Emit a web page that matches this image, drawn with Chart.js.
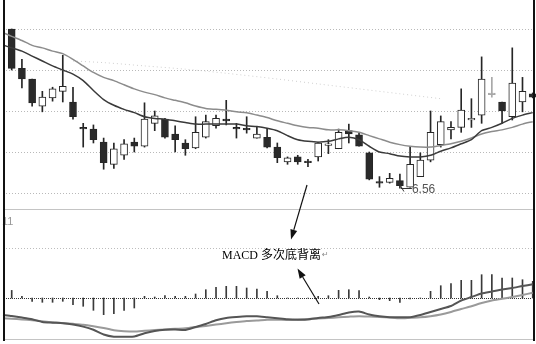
<!DOCTYPE html>
<html>
<head>
<meta charset="utf-8">
<script src="https://cdn.jsdelivr.net/npm/chart.js@4.4.1/dist/chart.umd.min.js"></script>
<style>
  html, body { margin: 0; padding: 0; background: #fff; }
  #wrap { position: relative; width: 536px; height: 344px; overflow: hidden; background: #fff; }
  #price { position: absolute; left: 0; top: 0; }
  #macd { position: absolute; left: 0; top: 210px; }
  #notes { position: absolute; left: 0; top: 0; }
</style>
</head>
<body>
<div id="wrap">
  <canvas id="price" width="536" height="210"></canvas>
  <canvas id="macd" width="536" height="134"></canvas>
  <svg id="notes" width="536" height="344" xmlns="http://www.w3.org/2000/svg">
    <text x="2" y="225" font-family="Liberation Sans, Arial, sans-serif" font-size="11" fill="#9a9a9a">11</text>
    <line x1="4" y1="209.5" x2="533" y2="209.5" stroke="#c4c4c4" stroke-width="1"/>
    <line x1="4" y1="339.5" x2="533" y2="339.5" stroke="#c4c4c4" stroke-width="1"/>
    <rect x="3" y="0" width="2" height="341" fill="#111"/>
    <rect x="533" y="0" width="2" height="341" fill="#111"/>
    <text x="222" y="258.5" font-family="Liberation Serif, 'Noto Sans CJK SC', serif" font-size="12" fill="#000">MACD 多次底背离</text>
    <text x="322" y="257" font-family="DejaVu Sans, sans-serif" font-size="8" fill="#8a8a8a">↵</text>
    <g id="arrows"></g>
  </svg>
</div>
<script>
// Daily candles: open / high / low / close
const openP  = [8.50, 8.02, 7.89, 7.56, 7.66, 7.74, 7.61, 7.30, 7.28, 7.12,
                6.85, 6.96, 7.12, 7.07, 7.35, 7.40, 7.22, 7.11, 7.05, 7.18,
                7.32, 7.40, 7.30, 7.29, 7.17, 7.18, 7.06, 6.88, 6.94, 6.89,
                6.94, 7.08, 7.04, 7.26, 7.21, 6.99, 6.64, 6.63, 6.65, 6.57,
                6.70, 6.90, 7.09, 7.27, 7.30, 7.39, 7.45, 7.72, 7.61, 7.43,
                7.61, 7.71];
const highP  = [8.50, 8.13, 7.89, 7.74, 7.79, 8.18, 7.79, 7.35, 7.33, 7.17,
                7.11, 7.15, 7.17, 7.60, 7.50, 7.41, 7.32, 7.15, 7.43, 7.45,
                7.45, 7.63, 7.35, 7.43, 7.30, 7.29, 7.11, 6.94, 6.96, 6.91,
                7.12, 7.15, 7.28, 7.34, 7.23, 7.00, 6.70, 6.74, 6.73, 7.07,
                6.99, 7.50, 7.44, 7.37, 7.77, 7.65, 8.16, 7.91, 7.61, 8.27,
                7.91, 7.72];
const lowP   = [8.00, 7.78, 7.56, 7.49, 7.62, 7.61, 7.40, 7.06, 7.11, 6.79,
                6.80, 6.91, 7.00, 7.06, 7.26, 7.17, 7.00, 6.96, 7.04, 7.17,
                7.29, 7.33, 7.17, 7.23, 7.17, 7.05, 6.87, 6.85, 6.85, 6.82,
                6.89, 6.98, 7.04, 7.11, 7.07, 6.66, 6.57, 6.62, 6.56, 6.57,
                6.70, 6.88, 7.06, 7.16, 7.24, 7.30, 7.35, 7.67, 7.35, 7.39,
                7.49, 7.66];
const closeP = [8.02, 7.89, 7.60, 7.67, 7.77, 7.80, 7.43, 7.28, 7.15, 6.87,
                7.04, 7.10, 7.07, 7.40, 7.44, 7.18, 7.15, 7.04, 7.24, 7.37,
                7.41, 7.38, 7.28, 7.27, 7.22, 7.06, 6.93, 6.93, 6.88, 6.87,
                7.11, 7.10, 7.24, 7.22, 7.07, 6.67, 6.62, 6.68, 6.59, 6.85,
                6.90, 7.24, 7.37, 7.30, 7.51, 7.41, 7.89, 7.70, 7.50, 7.84,
                7.74, 7.67];

// Moving averages; the first value sits just left of the first candle
const maStart = -0.75;
const maFast = [8.30, 8.27, 8.23, 8.17, 8.11, 8.05, 8.00, 7.95, 7.87, 7.75, 7.64,
                7.57, 7.52, 7.48, 7.43, 7.41, 7.40, 7.38, 7.36, 7.34, 7.34,
                7.34, 7.34, 7.34, 7.32, 7.31, 7.29, 7.26, 7.20, 7.15, 7.13,
                7.12, 7.13, 7.16, 7.18, 7.15, 7.07, 7.00, 6.98, 6.95, 6.94,
                6.94, 6.96, 7.01, 7.05, 7.10, 7.15, 7.26, 7.30, 7.35, 7.41,
                7.45, 7.48];
const maSlow = [8.45, 8.41, 8.36, 8.30, 8.27, 8.23, 8.20, 8.13, 8.05, 7.97, 7.91,
                7.87, 7.82, 7.77, 7.73, 7.70, 7.66, 7.63, 7.60, 7.56, 7.53,
                7.52, 7.51, 7.49, 7.48, 7.45, 7.42, 7.38, 7.35, 7.32, 7.30,
                7.29, 7.27, 7.27, 7.26, 7.24, 7.20, 7.16, 7.12, 7.09, 7.07,
                7.06, 7.06, 7.08, 7.10, 7.13, 7.17, 7.22, 7.25, 7.27, 7.30,
                7.34, 7.37];
// Long average, only partly shown (faint dotted)
const maLongIdx = [6, 9, 13, 17, 21, 26, 30, 34, 38, 42];
const maLong    = [8.11, 8.09, 8.05, 8.01, 7.96, 7.89, 7.83, 7.77, 7.71, 7.65];

// MACD: histogram, DIF and DEA (lines start just left of the first bar)
const macdStart = -0.85;
const macdHist = [0.076, 0.017, -0.033, -0.043, -0.043, -0.033, -0.067, -0.083, -0.123, -0.167,
                  -0.157, -0.123, -0.100, 0.017, 0.010, 0.023, 0.017, 0.017, 0.040, 0.083,
                  0.107, 0.117, 0.117, 0.100, 0.090, 0.067, 0.023, 0, 0, 0,
                  0.017, 0.023, 0.077, 0.083, 0.073, 0.010, -0.017, -0.027, -0.043, -0.010,
                  0, 0.067, 0.123, 0.143, 0.177, 0.177, 0.233, 0.233, 0.200, 0.200,
                  0.183, 0.167];
const dif = [-0.170, -0.180, -0.195, -0.212, -0.240, -0.247, -0.252, -0.265, -0.286, -0.318, -0.365,
             -0.387, -0.387, -0.385, -0.353, -0.330, -0.318, -0.315, -0.320, -0.290, -0.260,
             -0.223, -0.200, -0.190, -0.183, -0.183, -0.193, -0.203, -0.213, -0.217, -0.215,
             -0.200, -0.190, -0.170, -0.145, -0.135, -0.165, -0.183, -0.192, -0.193, -0.192,
             -0.170, -0.140, -0.110, -0.080, -0.025, 0.010, 0.045, 0.065, 0.085, 0.100,
             0.120, 0.137];
const dea = [-0.203, -0.208, -0.214, -0.223, -0.232, -0.243, -0.250, -0.258, -0.267, -0.282, -0.300,
             -0.322, -0.332, -0.336, -0.328, -0.320, -0.314, -0.308, -0.303, -0.292, -0.280,
             -0.266, -0.252, -0.240, -0.230, -0.225, -0.217, -0.217, -0.220, -0.215, -0.210,
             -0.206, -0.200, -0.193, -0.187, -0.182, -0.185, -0.189, -0.196, -0.203, -0.198,
             -0.193, -0.182, -0.165, -0.140, -0.110, -0.083, -0.050, -0.025, -0.008, 0.010,
             0.030, 0.053];

// Guide levels
const priceGrid = [8.5, 8.0, 7.5, 7.0, 6.5];
const macdGrid = [0.5];
const dimCandle = 47; // drawn in light grey

// Shared horizontal range (candle index)
const X_MIN = -1.1453, X_MAX = 51.322;

const idx = openP.map((_, i) => i);
const isUp = i => closeP[i] >= openP[i];
const bodyFill = idx.map(i => i === dimCandle ? '#a8a8a8' : (isUp(i) ? '#ffffff' : '#2a2a2a'));
const lineCol = idx.map(i => i === dimCandle ? '#a8a8a8' : '#262626');

const dottedGrid = {
  id: 'dottedGrid',
  beforeDatasetsDraw(chart, args, opts) {
    const { ctx } = chart;
    const y = chart.scales.y;
    ctx.save();
    ctx.lineWidth = 1;
    for (const g of opts.lines) {
      const py = Math.round(y.getPixelForValue(g.value)) + 0.5;
      ctx.strokeStyle = g.color;
      ctx.setLineDash(g.dash);
      ctx.beginPath();
      ctx.moveTo(6, py);
      ctx.lineTo(532, py);
      ctx.stroke();
    }
    ctx.restore();
  }
};

// Marks the lowest low with its value
const lowMark = {
  id: 'lowMark',
  afterDatasetsDraw(chart) {
    let k = 0;
    lowP.forEach((v, i) => { if (v < lowP[k]) k = i; });
    const { ctx } = chart;
    const x = chart.scales.x.getPixelForValue(k);
    const y = Math.round(chart.scales.y.getPixelForValue(lowP[k])) + 0.5;
    ctx.save();
    ctx.strokeStyle = '#333';
    ctx.lineWidth = 1;
    ctx.beginPath();
    ctx.moveTo(x + 1, y); ctx.lineTo(x + 12, y);
    ctx.moveTo(x, y - 4); ctx.lineTo(x + 4, y + 3);
    ctx.stroke();
    ctx.fillStyle = '#555';
    ctx.font = '12px "Liberation Sans", Arial, sans-serif';
    ctx.textBaseline = 'alphabetic';
    ctx.fillText(lowP[k].toFixed(2), x + 12, y + 4);
    ctx.restore();
  }
};

const baseOpts = (yMin, yMax, gridLines) => ({
  responsive: false,
  animation: false,
  events: [],
  layout: { padding: 0 },
  plugins: {
    legend: { display: false },
    tooltip: { enabled: false },
    dottedGrid: { lines: gridLines }
  },
  scales: {
    x: { type: 'linear', min: X_MIN, max: X_MAX, offset: false, display: false },
    y: { type: 'linear', min: yMin, max: yMax, beginAtZero: false, display: false }
  }
});

new Chart(document.getElementById('price'), {
  type: 'bar',
  data: {
    datasets: [
      {
        type: 'line', order: 0,
        data: maFast.map((v, i) => ({ x: maStart + (i === 0 ? 0 : i - 1 - maStart), y: v })),
        borderColor: '#3a3a3a', borderWidth: 1.5, pointRadius: 0, tension: 0.25, fill: false
      },
      {
        type: 'line', order: 1,
        data: maSlow.map((v, i) => ({ x: maStart + (i === 0 ? 0 : i - 1 - maStart), y: v })),
        borderColor: '#8c8c8c', borderWidth: 1.5, pointRadius: 0, tension: 0.25, fill: false
      },
      {
        type: 'line', order: 2,
        data: maLong.map((v, i) => ({ x: maLongIdx[i], y: v })),
        borderColor: '#cfcfcf', borderWidth: 1, borderDash: [1, 3], pointRadius: 0, tension: 0.3, fill: false
      },
      {
        type: 'bar', order: 3, grouped: false,
        data: idx.map(i => ({ x: i, y: [openP[i], closeP[i]] })),
        backgroundColor: bodyFill, borderColor: lineCol,
        borderWidth: 1, borderSkipped: false, barThickness: 7
      },
      {
        type: 'bar', order: 4, grouped: false,
        data: idx.map(i => ({ x: i, y: [lowP[i], highP[i]] })),
        backgroundColor: lineCol, borderWidth: 0, barThickness: 1
      }
    ]
  },
  options: baseOpts(6.2927, 8.8537, priceGrid.map(v => ({ value: v, color: '#b9b9b9', dash: [1, 2] }))),
  plugins: [dottedGrid, lowMark]
});

new Chart(document.getElementById('macd'), {
  type: 'bar',
  data: {
    datasets: [
      {
        type: 'line', order: 0,
        data: dif.map((v, i) => ({ x: macdStart + (i === 0 ? 0 : i - 1 - macdStart), y: v })),
        borderColor: '#555555', borderWidth: 2, pointRadius: 0, tension: 0.2, fill: false
      },
      {
        type: 'line', order: 1,
        data: dea.map((v, i) => ({ x: macdStart + (i === 0 ? 0 : i - 1 - macdStart), y: v })),
        borderColor: '#9a9a9a', borderWidth: 2, pointRadius: 0, tension: 0.2, fill: false
      },
      {
        type: 'bar', order: 2, grouped: false,
        data: idx.map(i => ({ x: i, y: [0, macdHist[i]] })),
        backgroundColor: '#3a3a3a', borderWidth: 0, barThickness: 1
      }
    ]
  },
  options: baseOpts(-0.46, 0.88, [
    ...macdGrid.map(v => ({ value: v, color: '#bdbdbd', dash: [1, 2] })),
    { value: 0, color: '#333333', dash: [1, 1] }
  ]),
  plugins: [dottedGrid]
});

// Pointer arrows for the annotation
(function () {
  const g = document.getElementById('arrows');
  const NS = 'http://www.w3.org/2000/svg';
  function arrow(x0, y0, x1, y1) {
    const dx = x1 - x0, dy = y1 - y0, len = Math.hypot(dx, dy);
    const ux = dx / len, uy = dy / len, nx = -uy, ny = ux;
    const hl = 10, hw = 3.5;
    const bx = x1 - hl * ux, by = y1 - hl * uy;
    const ln = document.createElementNS(NS, 'line');
    ln.setAttribute('x1', x0); ln.setAttribute('y1', y0);
    ln.setAttribute('x2', bx); ln.setAttribute('y2', by);
    ln.setAttribute('stroke', '#111'); ln.setAttribute('stroke-width', '1.2');
    g.appendChild(ln);
    const p = document.createElementNS(NS, 'polygon');
    p.setAttribute('points', `${x1},${y1} ${bx + hw * nx},${by + hw * ny} ${bx - hw * nx},${by - hw * ny}`);
    p.setAttribute('fill', '#111');
    g.appendChild(p);
  }
  arrow(307, 185, 291, 239.5);
  arrow(319, 304, 297.5, 268.5);
})();
</script>
</body>
</html>
